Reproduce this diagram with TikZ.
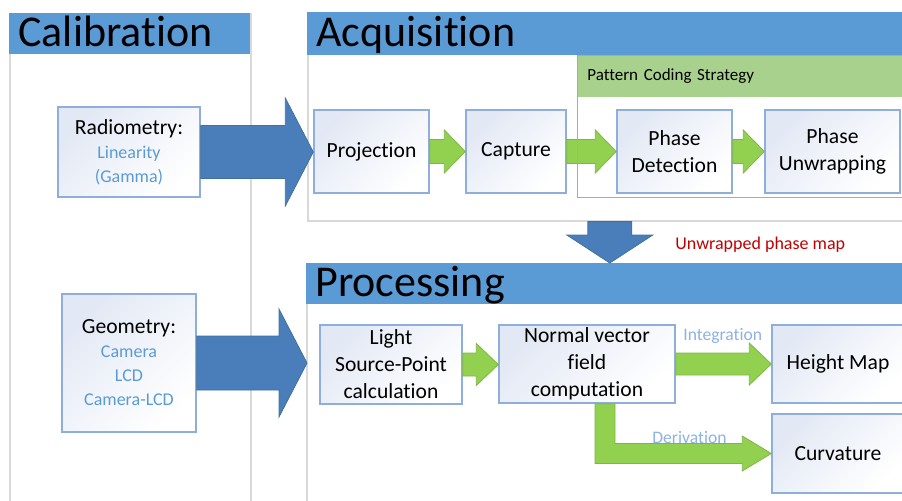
\documentclass[tikz,border=0pt]{standalone}
\usepackage{fontspec}
\setmainfont{Carlito}[Ligatures={NoCommon,NoContextual,NoRequired}, Contextuals=NoAlternate]
\usetikzlibrary{positioning,calc}

\definecolor{hdrblue}{HTML}{5B9BD5}
\definecolor{arrblue}{HTML}{4A7EBB}
\definecolor{arredge}{HTML}{41719C}
\definecolor{arrgreen}{HTML}{92D050}
\definecolor{greenedge}{HTML}{7FB744}
\definecolor{bargreen}{HTML}{A9D18E}
\definecolor{boxline}{HTML}{8EAFDB}
\definecolor{boxtint}{HTML}{E2E8F4}
\definecolor{subblue}{HTML}{5B9BD5}
\definecolor{lblblue}{HTML}{8DB3E2}
\definecolor{redtxt}{HTML}{C00000}
\definecolor{panelline}{HTML}{D9D9D9}

% block arrow: from, to, half body, half head, head length, style
\newcommand{\blockarrow}[6]{%
  \path[#6] let \p1=(#1), \p2=(#2) in
    (\x1,\y1+#3) -- (\x2-#5,\y1+#3) -- (\x2-#5,\y1+#4) -- (\x2,\y1)
    -- (\x2-#5,\y1-#4) -- (\x2-#5,\y1-#3) -- (\x1,\y1-#3) -- cycle;}
\newcommand{\blockdown}[6]{%
  \path[#6] let \p1=(#1), \p2=(#2) in
    (\x1+#3,\y1) -- (\x1+#3,\y2+#5) -- (\x1+#4,\y2+#5) -- (\x1,\y2)
    -- (\x1-#4,\y2+#5) -- (\x1-#3,\y2+#5) -- (\x1-#3,\y1) -- cycle;}
\newcommand{\subtx}[1]{{\color{subblue}\fontsize{9}{11}\selectfont #1}}

\begin{document}
\begin{tikzpicture}[
    x=0.5pt, y=-0.5pt,
    panel/.style={draw=panelline, line width=0.8pt, fill=white, anchor=north west, inner sep=0pt},
    hdr/.style={fill=hdrblue, anchor=north west, inner xsep=4.5pt, inner ysep=0pt, minimum height=20.5pt,
      align=left, font=\fontsize{22}{24}\selectfont, text height=15pt, text depth=2pt},
    stage/.style={draw=boxline, line width=0.7pt, top color=boxtint, bottom color=white, shading angle=45,
      align=center, inner sep=1pt, font=\fontsize{10.8}{13.5}\selectfont},
    lbl/.style={anchor=west, inner sep=0pt, text=lblblue, font=\fontsize{8.8}{10}\selectfont},
    bluearr/.style={fill=arrblue, draw=arredge, line width=0.4pt},
    grarr/.style={fill=arrgreen, draw=greenedge, line width=0.4pt},
  ]
  \useasboundingbox (0,0) rectangle (902,500);
  \clip (0,0) rectangle (902,500);

  % Panels and their headers
  \node[panel, minimum width=120.5pt, minimum height=260pt] (calpanel) at (9,13) {};
  \node[hdr, text width=111.5pt] (calhdr) at (9,13) {Calibration};
  \node[panel, minimum width=302pt, minimum height=104pt] (acqpanel) at (307,12) {};
  \node[hdr, text width=293pt, minimum height=21.5pt] (acqhdr) at (307,12) {Acquisition};
  \node[panel, minimum width=302pt, minimum height=130pt] (procpanel) at (306,263) {};
  \node[hdr, text width=293pt] (prochdr) at (306,263) {Processing};

  % Pattern coding strip
  \node[fill=bargreen, anchor=north west, minimum height=21pt, inner ysep=0pt, inner xsep=5pt,
    text width=155pt, align=left, font=\fontsize{8.5}{10}\selectfont] (pcbar) at (577,55) {Pattern Coding Strategy};

  % Calibration column
  \node[stage, minimum width=71pt, minimum height=45pt] (radio) at (129,152)
    {Radiometry:\\[-1.5pt]\subtx{Linearity}\\[-1.5pt]\subtx{(Gamma)}};
  \node[stage, minimum width=67pt, minimum height=69pt] (geom) at (129,363)
    {Geometry:\\[-1.5pt]\subtx{Camera}\\[-1.5pt]\subtx{LCD}\\[-1.5pt]\subtx{Camera-LCD}};

  % Acquisition row
  \node[stage, minimum width=57.5pt, minimum height=41.5pt] (proj) at (371.5,151.5) {Projection};
  \node[stage, minimum width=50pt, minimum height=41.5pt] (capt) at (516,151.5) {Capture};
  \node[stage, minimum width=57.5pt, minimum height=41.5pt] (phdet) at (674.5,151.5) {Phase\\Detection};
  \node[stage, minimum width=67.5pt, minimum height=41.5pt] (phunw) at (832.5,151.5) {Phase\\Unwrapping};

  % Processing row
  \node[stage, minimum width=71pt, minimum height=39.5pt] (light) at (391,364.5) {Light\\Source-Point\\calculation};
  \node[stage, minimum width=88pt, minimum height=39pt] (normal) at (587,364) {Normal vector\\field\\computation};
  \node[stage, minimum width=66pt, minimum height=39pt] (height) at (838,364) {Height Map};
  \node[stage, minimum width=66pt, minimum height=39.5pt] (curv) at (838,453.5) {Curvature};

  % Labels
  \node[anchor=west, inner sep=0pt, text=redtxt, font=\fontsize{9}{10}\selectfont] (mapl) at (675,245) {Unwrapped phase map};
  \node[lbl] (integ) at (683,336) {Integration};
  \node[lbl] (deriv) at (652,438) {Derivation};

  % Big blue arrows
  \coordinate (procin) at (307,363);
  \blockarrow{radio.east}{proj.west}{13.25pt}{27pt}{14pt}{bluearr}
  \blockarrow{geom.east}{procin}{13.5pt}{27pt}{14pt}{bluearr}
  \blockdown{acqpanel.south}{prochdr.north}{11pt}{21.5pt}{14pt}{bluearr}

  % Green arrows
  \foreach \a/\b in {proj/capt, capt/phdet, phdet/phunw}
    \blockarrow{\a.east}{\b.west}{6pt}{10.75pt}{10.5pt}{grarr};
  \blockarrow{light.east}{normal.west}{5.75pt}{10.5pt}{11pt}{grarr}
  \blockarrow{normal.east}{height.west}{5.5pt}{10.5pt}{11pt}{grarr}
  \path[grarr] let \p1=(normal.south), \p2=(curv.west) in
    (\x1+4pt,\y1) -- (\x1+4pt,\y2-5pt) -- (\x2-14.5pt,\y2-5pt) -- (\x2-14.5pt,\y2-8.75pt) -- (\x2,\y2)
    -- (\x2-14.5pt,\y2+8.75pt) -- (\x2-14.5pt,\y2+5pt) -- (\x1+14pt,\y2+5pt) -- (\x1+14pt,\y1) -- cycle;

  % Pattern coding frame on top
  \node[draw=boxline, line width=0.6pt, anchor=north west, minimum width=162.5pt, minimum height=71pt, inner sep=0pt]
    (pcframe) at (577,55) {};
\end{tikzpicture}
\end{document}
